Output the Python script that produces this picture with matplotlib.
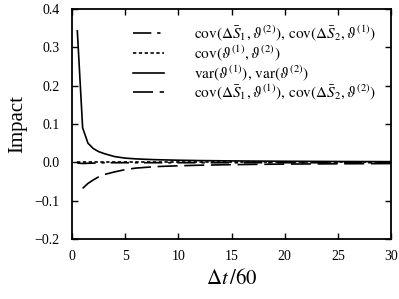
import matplotlib
matplotlib.use('Agg')
import matplotlib.pyplot as plt

plt.rcParams['font.family'] = ['Liberation Serif', 'DejaVu Serif']
plt.rcParams['mathtext.fontset'] = 'stix'

# values
t_var = [0.5, 1.0, 1.5, 2.0, 2.5, 3.0, 4.0, 5.0, 6.0, 7.0, 8.0, 10.0, 12.0, 15.0, 20.0, 25.0, 30.0]
var_theta = [0.343, 0.090, 0.050, 0.036, 0.028, 0.023, 0.015, 0.011, 0.009, 0.0078, 0.0068, 0.0055,
             0.0046, 0.0037, 0.0028, 0.0022, 0.0018]

t_cov = [1.0, 1.5, 2.0, 2.5, 3.0, 4.0, 5.0, 6.0, 7.0, 8.0, 10.0, 12.0, 15.0, 20.0, 25.0, 30.0]
cov_s_own = [-0.068, -0.055, -0.046, -0.038, -0.032, -0.025, -0.019, -0.015, -0.013, -0.011, -0.009,
             -0.0075, -0.006, -0.0045, -0.0038, -0.0032]

t_cross = [0.5, 1.0, 2.0, 3.0, 5.0, 7.0, 10.0, 15.0, 20.0, 25.0, 30.0]
cov_s_cross = [-0.002, -0.003, -0.002, -0.001, -0.001, -0.001, -0.001, -0.001, -0.001, -0.001, -0.001]
cov_theta = [0.0, 0.0, 0.0, 0.0, 0.0, 0.0, 0.0, 0.0, 0.0, 0.0, 0.0]

labels = [
    r'$\mathrm{cov}(\Delta\bar{S}_1,\vartheta^{(2)}),\, \mathrm{cov}(\Delta\bar{S}_2,\vartheta^{(1)})$',
    r'$\mathrm{cov}(\vartheta^{(1)},\vartheta^{(2)})$',
    r'$\mathrm{var}(\vartheta^{(1)}),\, \mathrm{var}(\vartheta^{(2)})$',
    r'$\mathrm{cov}(\Delta\bar{S}_1,\vartheta^{(1)}),\, \mathrm{cov}(\Delta\bar{S}_2,\vartheta^{(2)})$',
]

fig = plt.figure(figsize=(3.99, 2.99), dpi=100)
ax = fig.add_axes([72 / 399, 60 / 299, 319 / 399, 230 / 299])

lw = 1.2
ax.plot(t_cross, cov_s_cross, color='k', lw=lw, dashes=(11, 3.5, 2, 3.5), label=labels[0])
ax.plot(t_cross, cov_theta, color='k', lw=lw, dashes=(2, 1.5), label=labels[1])
ax.plot(t_var, var_theta, color='k', lw=lw, label=labels[2])
ax.plot(t_cov, cov_s_own, color='k', lw=lw, dashes=(12, 4), label=labels[3])

ax.set_xlim(0, 30)
ax.set_ylim(-0.2, 0.4)
ax.set_xticks(range(0, 31, 5))
ax.set_yticks([-0.2, -0.1, 0.0, 0.1, 0.2, 0.3, 0.4])
ax.set_yticklabels(['\u22120.2', '\u22120.1', '0.0', '0.1', '0.2', '0.3', '0.4'])
ax.tick_params(direction='in', top=True, right=True, length=4.5, width=1.0, labelsize=10)
ax.tick_params(axis='y', pad=9)
ax.tick_params(axis='x', pad=8)
for s in ax.spines.values():
    s.set_linewidth(1.3)

ax.set_xlabel(r'$\Delta t\,/60$', fontsize=15)
ax.set_ylabel('Impact', fontsize=15, labelpad=5)

ax.legend(loc='upper right', frameon=False, fontsize=11, handlelength=2.0, handletextpad=2.0,
          labelspacing=0.0, borderaxespad=0.55)

fig.savefig('out.png', dpi=100)
